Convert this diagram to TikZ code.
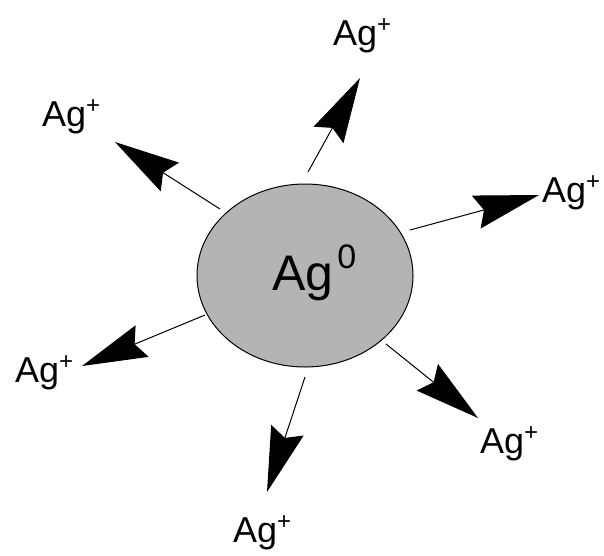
\documentclass[tikz,border=0pt]{standalone}
\usepackage{fontspec}
\setmainfont{Liberation Sans}
\usetikzlibrary{arrows.meta}
\definecolor{coregray}{RGB}{180,180,180}
\newcommand\agplus{\fontsize{36}{40}\selectfont Ag\raisebox{13pt}{\fontsize{24}{24}\selectfont +}}
\tikzset{
  ionlabel/.style={anchor=base west, inner sep=0pt, font=\fontsize{36}{40}\selectfont},
  release/.style={line width=1pt, -{Stealth[length=65pt, width=34pt, inset=8pt]}},
  corebox/.style={ellipse, draw=black, line width=1pt, fill=coregray,
    minimum width=216pt, minimum height=183pt, inner sep=0pt}
}
\usetikzlibrary{shapes.geometric}
\begin{document}
\begin{tikzpicture}[x=1pt, y=-1pt]
  \useasboundingbox (0,0) rectangle (604,555);
  \node[corebox] (core) at (305,275.5) {};
  \node[anchor=base west, inner sep=0pt] (coretext) at (272,290)
    {\fontsize{50}{54}\selectfont Ag\hspace{4pt}\raisebox{22pt}{\fontsize{34}{34}\selectfont 0}};
  % start and tip coordinates
  \coordinate (s1) at (308,172); \coordinate (t1) at (360,78);
  \coordinate (s2) at (220,209); \coordinate (t2) at (115,142);
  \coordinate (s3) at (410,230); \coordinate (t3) at (539,195);
  \coordinate (s4) at (205,315); \coordinate (t4) at (82,366);
  \coordinate (s5) at (386,344); \coordinate (t5) at (478,418);
  \coordinate (s6) at (305,377); \coordinate (t6) at (267,492);
  \draw[release] (s1) -- (t1);
  \draw[release] (s2) -- (t2);
  \draw[release] (s3) -- (t3);
  \draw[release] (s4) -- (t4);
  \draw[release] (s5) -- (t5);
  \draw[release] (s6) -- (t6);
  % labels
  \node[ionlabel] (l1) at (333,45) {\agplus};
  \node[ionlabel] (l2) at (42,126) {\agplus};
  \node[ionlabel] (l3) at (542,202) {\agplus};
  \node[ionlabel] (l4) at (15,382) {\agplus};
  \node[ionlabel] (l5) at (480,453) {\agplus};
  \node[ionlabel] (l6) at (233,542) {\agplus};
\end{tikzpicture}
\end{document}
